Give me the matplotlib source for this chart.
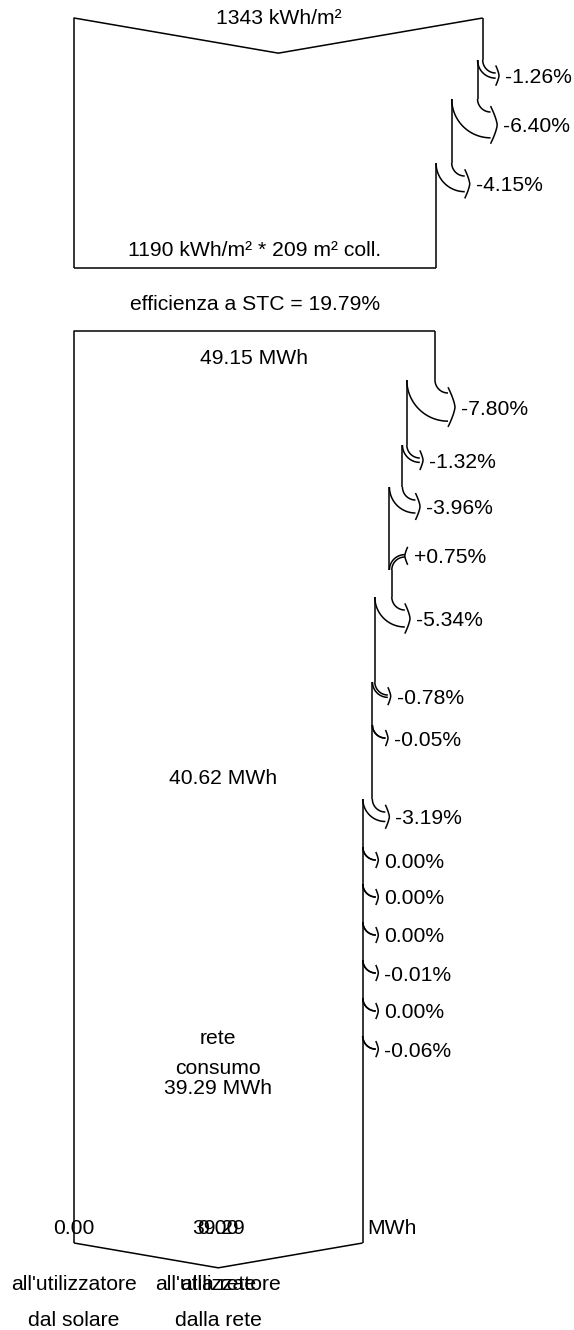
import numpy as np
import matplotlib.pyplot as plt

plt.rcParams['font.family'] = ['Liberation Sans', 'DejaVu Sans']
plt.rcParams['font.size'] = 15.2

# irradiance on collector plane
irr_glob = 1343.0            # kWh/m²
irr_losses = [-1.26, -6.40, -4.15]
irr_eff = 1190.0
coll_area = 209
stc_eff = 19.79

# array energy
e_nominal = 49.15            # MWh
array_losses = [-7.80, -1.32, -3.96, 0.75, -5.34, -0.78, -0.05]
e_array = 40.62
system_losses = [-3.19, 0.00, 0.00, 0.00, -0.01, 0.00, -0.06]
e_consumo = 39.29

# final split at the user
split_values = [0.00, 39.29, 0.00]
split_labels = [["all'utilizzatore", "dal solare"],
                ["all'utilizzatore", "dalla rete"],
                ["alla rete"]]

# layout, pixels from the top
X0 = 74
W_IRR = 408.7
W_NOM = 361.0
Y_TOP1, Y_BOT1 = 18, 268
Y_TOP2, Y_BOT2 = 331, 1243
irr_loss_y = [60, 99, 163]
array_loss_y = [380, 445, 487, 570, 597, 682, 725]
system_loss_y = [799, 847, 884, 922, 960, 998, 1036]
R = 13.0
TXT = 7.5   # baseline shift for vertically centred text

LINE = dict(color='black', lw=1.1, solid_capstyle='butt')

fig = plt.figure(figsize=(5.74, 13.3), dpi=100)
ax = fig.add_axes([0, 0, 1, 1])
ax.set_xlim(0, 574)
ax.set_ylim(1330, 0)
ax.axis('off')


def pct_label(p):
    return "0.00%" if p == 0 else f"{p:+.2f}%"


def running(start, losses):
    vals = [start]
    for p in losses:
        vals.append(vals[-1] * (1 + p / 100.0))
    return vals


def draw_step(x_old, x_new, y, p):
    t = np.linspace(0, np.pi / 2, 40)
    s = np.linspace(-1, 1, 30)
    w = abs(x_old - x_new)
    half = 8 + 0.42 * w
    tip = 2.5 + 0.16 * w
    if p <= 0:
        cx = x_old + R
        for r in (cx - x_old, cx - x_new):
            ax.plot(cx - r * np.cos(t), y + r * np.sin(t), **LINE)
        yc = y + R + w / 2
        ax.plot(cx + tip * (1 - np.abs(s) ** 1.4), yc + half * s, **LINE)
    else:
        cx = x_new + R
        for r in (cx - x_new, cx - x_old):
            ax.plot(cx - r * np.cos(t), y - r * np.sin(t), **LINE)
        yc = y - R - w / 2
        ax.plot(cx + tip * np.abs(s) ** 1.4, yc + half * s, **LINE)
    ax.text(cx + tip + 6, yc + TXT, pct_label(p), ha='left', va='baseline')


def right_edge(xs, ys, y_top, y_bot):
    bounds = [y_top] + list(ys) + [y_bot]
    for i, x in enumerate(xs):
        ax.plot([x, x], [bounds[i], bounds[i + 1]], **LINE)


# --- irradiance block ---
k1 = W_IRR / irr_glob
v1 = running(irr_glob, irr_losses)
x1 = [X0 + v * k1 for v in v1]
xc1 = X0 + W_IRR / 2
ax.plot([X0, X0, xc1, x1[0]],
        [Y_BOT1, Y_TOP1, Y_TOP1 + 0.086 * W_IRR, Y_TOP1], **LINE)
ax.plot([X0, x1[-1]], [Y_BOT1, Y_BOT1], **LINE)
right_edge(x1, irr_loss_y, Y_TOP1, Y_BOT1)
for i, p in enumerate(irr_losses):
    draw_step(x1[i], x1[i + 1], irr_loss_y[i], p)

ax.text(xc1, Y_TOP1 - 1 + TXT, f"{irr_glob:.0f} kWh/m²", ha='center', va='baseline')
ax.text((X0 + x1[-1]) / 2, 248 + TXT,
        f"{irr_eff:.0f} kWh/m² * {coll_area} m² coll.", ha='center', va='baseline')
ax.text((X0 + x1[-1]) / 2, 302 + TXT, f"efficienza a STC = {stc_eff:.2f}%",
        ha='center', va='baseline')

# --- energy block ---
k2 = W_NOM / e_nominal
losses2 = array_losses + system_losses
ys2 = array_loss_y + system_loss_y
v2 = running(e_nominal, losses2)
x2 = [X0 + v * k2 for v in v2]
right_edge(x2, ys2, Y_TOP2, Y_BOT2)
for i, p in enumerate(losses2):
    draw_step(x2[i], x2[i + 1], ys2[i], p)

w_end = x2[-1] - X0
xc2 = X0 + w_end / 2
ax.plot([X0, X0, x2[0]], [Y_BOT2, Y_TOP2, Y_TOP2], **LINE)
ax.plot([X0, xc2, x2[-1]], [Y_BOT2, Y_BOT2 + 0.086 * w_end, Y_BOT2], **LINE)

ax.text((X0 + x2[0]) / 2, 357 + TXT, f"{e_nominal:.2f} MWh", ha='center', va='baseline')
n_arr = len(array_losses)
ax.text((X0 + x2[n_arr]) / 2, 777 + TXT, f"{e_array:.2f} MWh", ha='center', va='baseline')
ax.text(xc2, 1037 + TXT, "rete", ha='center', va='baseline')
ax.text(xc2, 1067 + TXT, "consumo", ha='center', va='baseline')
ax.text(xc2, 1087 + TXT, f"{e_consumo:.2f} MWh", ha='center', va='baseline')

# split values and labels under the block (the last two share a column)
split_x = [X0, xc2, xc2]
for x, v, lab in zip(split_x, split_values, split_labels):
    ax.text(x, 1227 + TXT, f"{v:.2f}", ha='center', va='baseline')
    for j, line in enumerate(lab):
        ax.text(x, 1282 + 36 * j + TXT, line, ha='center', va='baseline')
ax.text(x2[-1] + 5, 1227 + TXT, "MWh", ha='left', va='baseline')

fig.savefig('out.png', dpi=100)
